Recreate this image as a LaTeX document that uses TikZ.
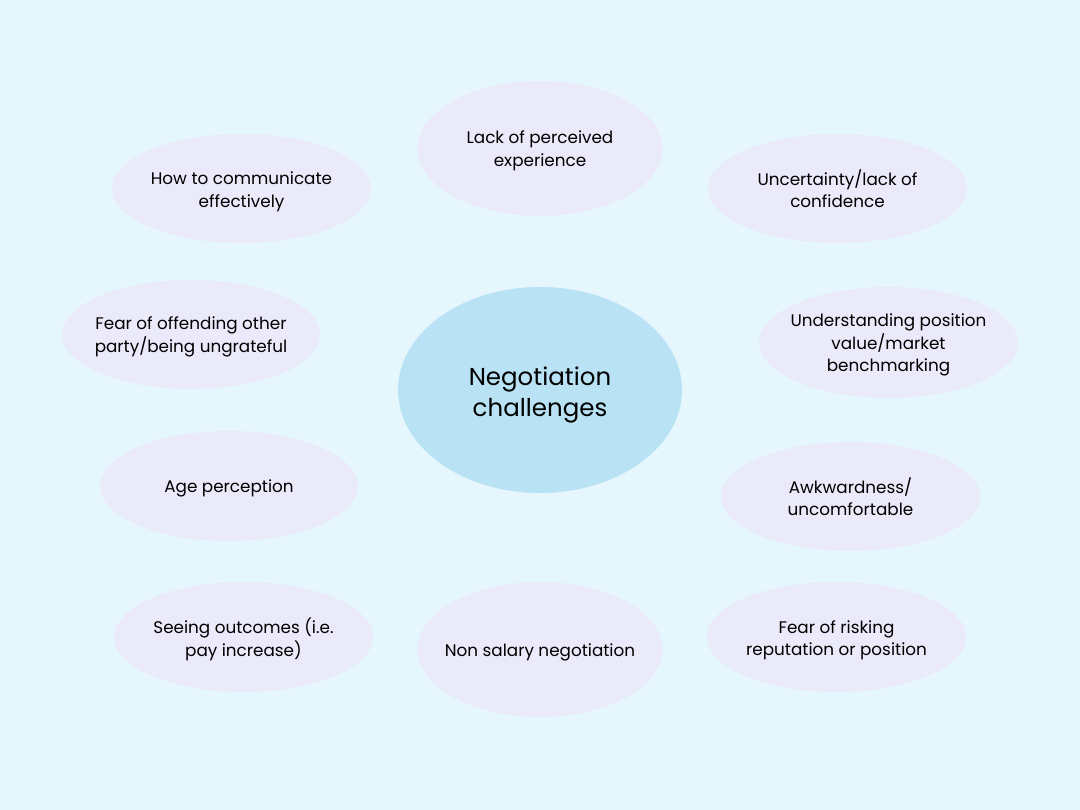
\documentclass[tikz,border=0pt]{standalone}
\usepackage{fontspec}
\setmainfont{Poppins}
\definecolor{bgc}{HTML}{E5F7FD}
\definecolor{centc}{HTML}{B9E3F4}
\definecolor{ellc}{HTML}{EAEAFA}
\begin{document}
\begin{tikzpicture}[x=1pt,y=-1pt,
  lbl/.style={align=center, font=\fontsize{16.8}{22.5}\selectfont, text=black, yshift=-2.5pt},
  bigl/.style={align=center, font=\fontsize{24.5}{31}\selectfont, text=black, yshift=-3.5pt},
]
\useasboundingbox[fill=bgc] (0,0) rectangle (1080,810);
\fill[centc] (540,390) ellipse [x radius=142, y radius=103];
\node[bigl] (center) at (540,391) {Negotiation\\challenges};
% surrounding bubbles
\fill[ellc] (540,148.5) ellipse [x radius=122.5, y radius=67.5];
\node[lbl] (lack) at (540,148.5) {Lack of perceived\\experience};
\fill[ellc] (241.5,188.5) ellipse [x radius=129.5, y radius=54.5];
\node[lbl] (comm) at (241.5,189.5) {How to communicate\\effectively};
\fill[ellc] (837.5,188.5) ellipse [x radius=129.5, y radius=54.5];
\node[lbl] (unc) at (837.5,186) {Uncertainty/lack of\\confidence};
\fill[ellc] (191,334.5) ellipse [x radius=129, y radius=54.5];
\node[lbl] (fear) at (191,334.5) {Fear of offending other\\party/being ungrateful};
\fill[ellc] (888.5,342.5) ellipse [x radius=129.5, y radius=55.5];
\node[lbl] (und) at (888.5,342.5) {Understanding position\\value/market\\benchmarking};
\fill[ellc] (229,486) ellipse [x radius=129, y radius=55];
\node[lbl] (age) at (229,486) {Age perception};
\fill[ellc] (850.5,496.5) ellipse [x radius=129.5, y radius=54.5];
\node[lbl] (awk) at (850.5,494) {Awkwardness/\\uncomfortable};
\fill[ellc] (243.5,637) ellipse [x radius=129.5, y radius=55];
\node[lbl] (see) at (243.5,637) {Seeing outcomes (i.e.\\pay increase)};
\fill[ellc] (540,649.5) ellipse [x radius=122.5, y radius=67.5];
\node[lbl] (non) at (540,649.5) {Non salary negotiation};
\fill[ellc] (836.5,637) ellipse [x radius=129.5, y radius=55];
\node[lbl] (risk) at (836.5,638) {Fear of risking\\reputation or position};
\end{tikzpicture}
\end{document}
